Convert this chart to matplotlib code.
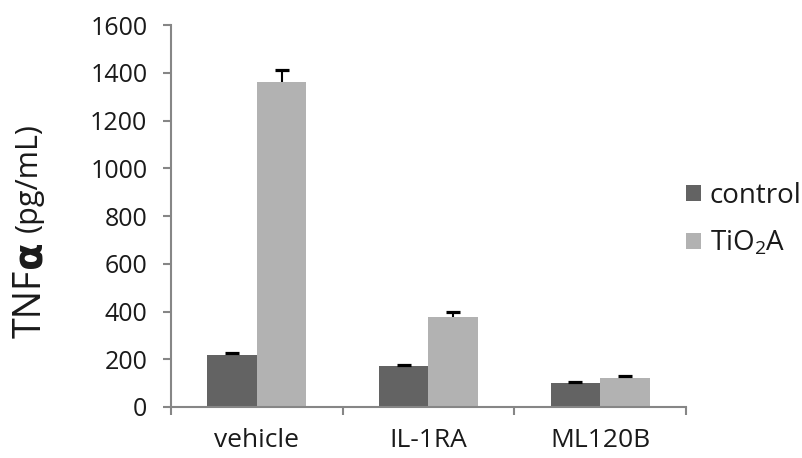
import numpy as np
import matplotlib
matplotlib.use("Agg")
import matplotlib.pyplot as plt

plt.rcParams['font.family'] = ['Open Sans', 'DejaVu Sans']
plt.rcParams['mathtext.fontset'] = 'custom'
plt.rcParams['mathtext.rm'] = 'Open Sans'
plt.rcParams['mathtext.it'] = 'Open Sans'

# data
categories = ["vehicle", "IL-1RA", "ML120B"]
series_names = ["control", "TiO$_2$A"]
control_vals = [218, 170, 100]
control_err = [7, 7, 5]
tio2_vals = [1361, 377, 121]
tio2_err = [52, 20, 8]
yticks = [0, 200, 400, 600, 800, 1000, 1200, 1400, 1600]

dark = "#636363"
light = "#b2b2b2"
axis_grey = "#868686"
text_col = "#1a1a1a"

fig = plt.figure(figsize=(8.03, 4.58), dpi=100)
W, H = 803, 458
ax = fig.add_axes([171 / W, (H - 407) / H, (686 - 171) / W, (407 - 25) / H])

x = np.arange(len(categories))
bw = 0.289
err_kw = dict(ecolor="black", elinewidth=1.5, capsize=4.7, capthick=2.3)
bars = [
    ax.bar(x - bw / 2, control_vals, bw, color=dark, label=series_names[0],
           yerr=[np.zeros(3), control_err], error_kw=err_kw),
    ax.bar(x + bw / 2, tio2_vals, bw, color=light, label=series_names[1],
           yerr=[np.zeros(3), tio2_err], error_kw=err_kw),
]
# plus-direction error bars only: drop the lower caps
for b in bars:
    caplines = b.errorbar.lines[1]
    caplines[0].remove()

ax.set_xlim(-0.5, len(categories) - 0.5)
ax.set_ylim(0, 1600)
ax.set_yticks(yticks)
ax.set_xticks(x)
ax.set_xticklabels(categories)
ax.set_xticks(np.arange(-0.5, len(categories)), minor=True)

for s in ["top", "right"]:
    ax.spines[s].set_visible(False)
for s in ["left", "bottom"]:
    ax.spines[s].set_color(axis_grey)
    ax.spines[s].set_linewidth(1.5)

ax.tick_params(axis="y", length=6, width=1.5, color=axis_grey,
               labelsize=18, labelcolor=text_col, pad=11)
ax.tick_params(axis="x", which="major", length=0, labelsize=19,
               labelcolor=text_col, pad=15)
ax.tick_params(axis="x", which="minor", length=6, width=1.5, color=axis_grey)

# y label pieces: "TNF" + bold alpha + "(pg/mL)", chained bottom to top
t1 = fig.text(31 / W, (H - 338) / H, "TNF", rotation=90, ha="center",
              va="bottom", fontsize=27, color=text_col)
t2 = ax.annotate("α", xy=(0.5, 1.0), xycoords=t1, xytext=(0, 1),
                 textcoords="offset points", rotation=90, ha="center",
                 va="bottom", fontsize=29, fontweight="bold", color=text_col,
                 family="DejaVu Sans", annotation_clip=False)
t3 = ax.annotate("(pg/mL)", xy=(1.0, 1.0), xycoords=t2, xytext=(-5, 6),
                 textcoords="offset points", rotation=90, ha="right",
                 va="bottom", fontsize=22, color=text_col,
                 annotation_clip=False)

leg = ax.legend(loc="center left", bbox_to_anchor=(1.0, 0.49), frameon=False,
                fontsize=20, handlelength=0.55, handleheight=0.55,
                handletextpad=0.3, labelspacing=0.7, borderaxespad=0.0,
                borderpad=0.0)
for t in leg.get_texts():
    t.set_color(text_col)

fig.savefig("out.png", dpi=100)
